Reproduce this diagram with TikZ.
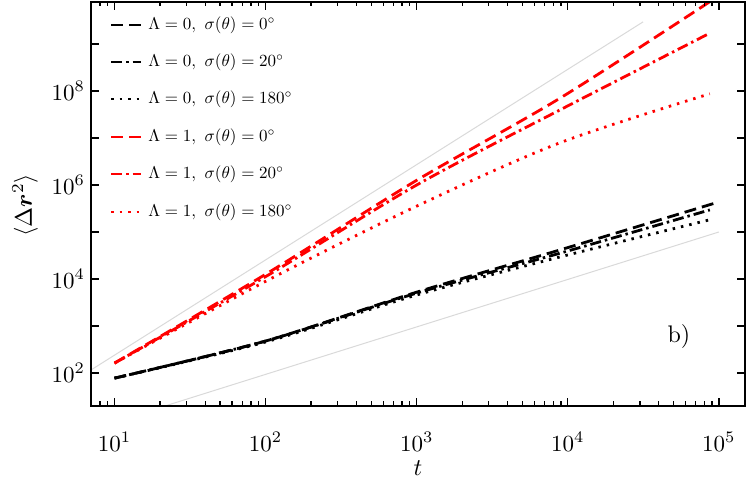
\documentclass[tikz,border=0pt]{standalone}
\usepackage{bm}
\begin{document}
\begin{tikzpicture}[x=151.1pt,y=47pt,
  ax/.style={line width=1.8pt},
  tk/.style={line width=1.3pt},
  gr/.style={line width=1pt,color=black!15},
  cv/.style={line width=2.8pt},
  dsh/.style={cv,dash pattern=on 12pt off 6pt},
  dd/.style={cv,dash pattern=on 11pt off 4pt on 2.5pt off 4pt},
  dt/.style={cv,dash pattern=on 2.5pt off 6pt},
  lab/.style={scale=2.3,transform shape,inner sep=0.5pt},
  big/.style={scale=2.4,transform shape},
  leg/.style={scale=1.7,transform shape,anchor=west,inner sep=0pt}]
\useasboundingbox (0.2422,-0.4255) rectangle (5.186,9.936);
\coordinate (bl) at (0.8445,1.298);
\coordinate (tr) at (5.172,9.894);
\begin{scope}
\clip (bl) rectangle (tr);
\draw[gr] (0.8445,2.064) -- (4.498,9.47);
\draw[gr] (1.334,1.298) -- (5,5);
\draw[dsh] plot[smooth] coordinates {(1,1.89) (2,2.68) (3,3.72) (3.95,4.62) (5,5.64)};
\draw[dd] plot[smooth] coordinates {(1,1.89) (2,2.68) (3,3.7) (3.95,4.55) (4.94,5.47)};
\draw[dt] plot[smooth] coordinates {(1,1.89) (2,2.66) (3,3.66) (3.95,4.47) (4.94,5.26)};
\draw[dsh,red] plot[smooth] coordinates {(1,2.21) (2,4.1) (3,6.1) (3.95,7.85) (4.94,9.9)};
\draw[dd,red] plot[smooth] coordinates {(1,2.21) (2,4.05) (3,6.0) (3.95,7.6) (4.94,9.23)};
\draw[dt,red] plot[smooth] coordinates {(1,2.21) (2,3.95) (3,5.55) (3.95,6.9) (4.94,7.94)};
\end{scope}
% ticks
\foreach \d in {0,1,2,3,4,5}{
  \foreach \k in {1,...,9}{
    \pgfmathsetmacro{\xx}{\d+log10(\k)}
    \pgfmathparse{(\xx>0.8445 && \xx<5.172)?1:0}
    \ifnum\pgfmathresult=1
      \ifnum\k=1
        \draw[tk] (\xx,1.298) -- ++(0,8pt);
        \draw[tk] (\xx,9.894) -- ++(0,-8pt);
      \else
        \draw[tk] (\xx,1.298) -- ++(0,4.5pt);
        \draw[tk] (\xx,9.894) -- ++(0,-4.5pt);
      \fi
    \fi
  }
}
\foreach \e in {2,...,9}{
  \draw[tk] (0.8445,\e) -- ++(8pt,0);
  \draw[tk] (5.172,\e) -- ++(-8pt,0);
}
\draw[ax] (bl) rectangle (tr);
\foreach \e/\n in {1/a,2/b,3/c,4/d,5/e}
  \node[lab] (x\n) at (\e,0.532) {$10^{\e}$};
\foreach \e/\n in {2/a,4/b,6/c,8/d}
  \node[lab,anchor=east] (y\n) at (0.815,\e) {$10^{\e}$};
\node[big] (tl) at (3.008,-0.02) {$t$};
\node[big,rotate=90] (yl) at (0.408,5.57) {$\langle\Delta\bm{r}^2\rangle$};
\node[big] (bb) at (4.735,2.766) {b)};
% legend
\foreach \y/\st/\c/\l/\s [count=\i] in {9.404/dsh/black/0/0,8.617/dd/black/0/20,7.83/dt/black/0/180,7.02/dsh/red/1/0,6.234/dd/red/1/20,5.426/dt/red/1/180}{
  \coordinate (la\i) at (0.977,\y);
  \coordinate (lb\i) at (1.175,\y);
  \draw[\st,\c,line width=1.6pt] (la\i) -- (lb\i);
  \node[leg] (lt\i) at (1.222,\y) {$\Lambda=\l,\ \sigma(\theta)=\s^\circ$};
}
\end{tikzpicture}
\end{document}
